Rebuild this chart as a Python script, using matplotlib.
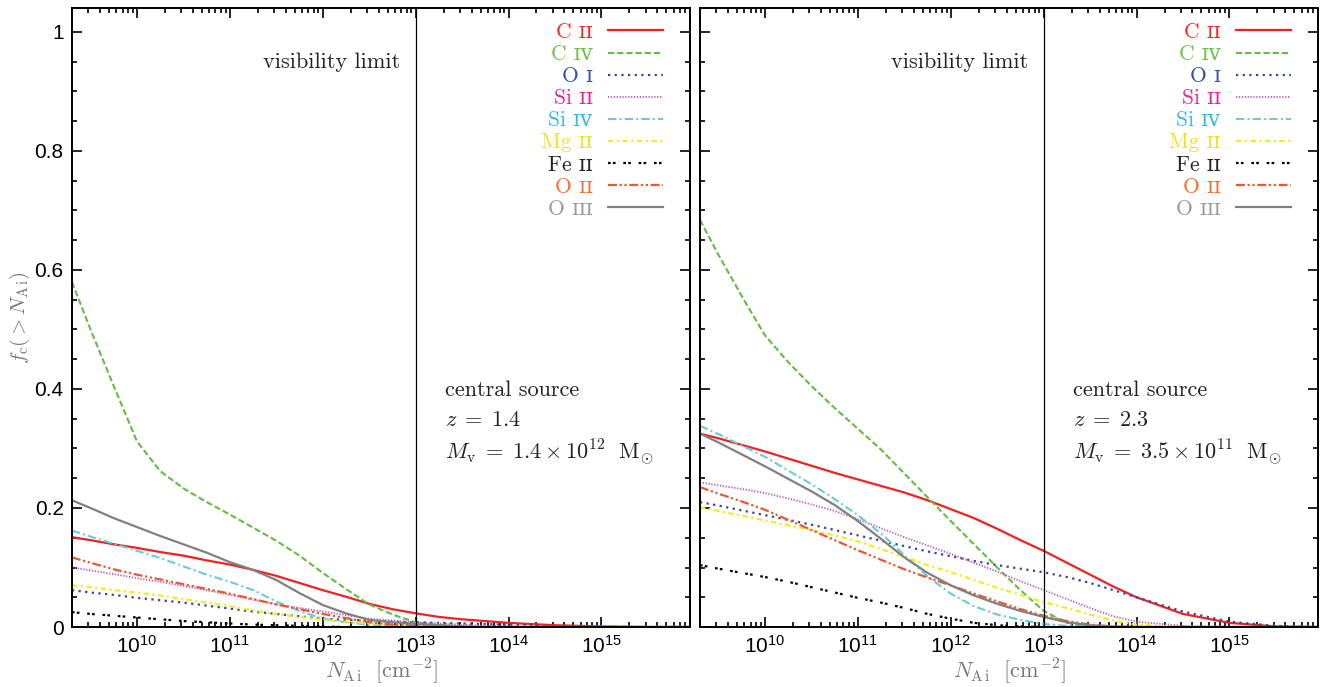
import numpy as np
import matplotlib
matplotlib.use('Agg')
import matplotlib.pyplot as plt
from matplotlib.ticker import FixedLocator, LogLocator, MultipleLocator, NullFormatter

plt.rcParams['font.family'] = ['Liberation Sans', 'DejaVu Sans']
plt.rcParams['mathtext.fontset'] = 'custom'
plt.rcParams['mathtext.rm'] = 'Liberation Sans'
plt.rcParams['mathtext.it'] = 'Liberation Sans:italic'

# column density grid, log10(N / cm^-2)
log_n = [9.3, 9.5, 9.75, 10.0, 10.25, 10.5, 10.75, 11.0, 11.25, 11.5, 11.75, 12.0,
         12.25, 12.5, 12.75, 13.0, 13.25, 13.5, 13.75, 14.0, 14.5, 15.0, 15.5, 16.0]
decades = [1e10, 1e11, 1e12, 1e13, 1e14, 1e15]
visibility_limit = 1e13

ion_labels = ['C ɪɪ', 'C ɪᴠ', 'O ɪ', 'Si ɪɪ', 'Si ɪᴠ', 'Mg ɪɪ', 'Fe ɪɪ', 'O ɪɪ', 'O ɪɪɪ']

# z = 1.4 panel
left_c2 = [0.151, 0.146, 0.139, 0.133, 0.126, 0.120, 0.112, 0.105, 0.096, 0.086, 0.074, 0.062,
           0.051, 0.039, 0.030, 0.023, 0.017, 0.013, 0.010, 0.007, 0.003, 0.001, 0, 0]
left_c4 = [0.58, 0.50, 0.405, 0.312, 0.262, 0.233, 0.210, 0.189, 0.167, 0.145, 0.120, 0.091,
           0.064, 0.038, 0.021, 0.008, 0.003, 0.001, 0, 0, 0, 0, 0, 0]
left_o1 = [0.062, 0.058, 0.054, 0.049, 0.045, 0.041, 0.036, 0.031, 0.026, 0.022, 0.018, 0.014,
           0.012, 0.011, 0.009, 0.008, 0.007, 0.006, 0.005, 0.004, 0.001, 0, 0, 0]
left_si2 = [0.100, 0.095, 0.089, 0.082, 0.076, 0.069, 0.062, 0.054, 0.046, 0.038, 0.032, 0.026,
            0.020, 0.014, 0.011, 0.008, 0.006, 0.004, 0.002, 0.001, 0, 0, 0, 0]
left_si4 = [0.162, 0.152, 0.140, 0.128, 0.116, 0.102, 0.088, 0.076, 0.062, 0.043, 0.027, 0.014,
            0.008, 0.004, 0.002, 0.001, 0, 0, 0, 0, 0, 0, 0, 0]
left_mg2 = [0.070, 0.067, 0.062, 0.058, 0.053, 0.047, 0.041, 0.035, 0.028, 0.022, 0.017, 0.012,
            0.009, 0.006, 0.004, 0.002, 0.001, 0, 0, 0, 0, 0, 0, 0]
left_fe2 = [0.025, 0.022, 0.019, 0.016, 0.013, 0.010, 0.008, 0.006, 0.004, 0.003, 0.002, 0.001,
            0, 0, 0, 0, 0, 0, 0, 0, 0, 0, 0, 0]
left_o2 = [0.117, 0.108, 0.097, 0.088, 0.080, 0.072, 0.064, 0.056, 0.047, 0.038, 0.030, 0.022,
           0.015, 0.008, 0.004, 0.002, 0.001, 0, 0, 0, 0, 0, 0, 0]
left_o3 = [0.213, 0.200, 0.183, 0.168, 0.153, 0.139, 0.125, 0.109, 0.096, 0.079, 0.057, 0.037,
           0.023, 0.012, 0.008, 0.005, 0.003, 0.001, 0, 0, 0, 0, 0, 0]

# z = 2.3 panel
right_c2 = [0.325, 0.317, 0.306, 0.295, 0.283, 0.271, 0.259, 0.248, 0.237, 0.226, 0.213, 0.198,
            0.183, 0.165, 0.146, 0.128, 0.108, 0.088, 0.068, 0.050, 0.022, 0.007, 0.001, 0]
right_c4 = [0.684, 0.625, 0.556, 0.490, 0.445, 0.405, 0.368, 0.333, 0.298, 0.258, 0.218, 0.178,
            0.139, 0.100, 0.062, 0.027, 0.007, 0.001, 0, 0, 0, 0, 0, 0]
right_o1 = [0.210, 0.204, 0.196, 0.188, 0.180, 0.172, 0.163, 0.154, 0.145, 0.136, 0.127, 0.119,
            0.111, 0.104, 0.098, 0.092, 0.084, 0.074, 0.062, 0.050, 0.026, 0.009, 0.002, 0]
right_si2 = [0.243, 0.238, 0.232, 0.225, 0.216, 0.206, 0.195, 0.181, 0.166, 0.151, 0.137, 0.123,
             0.108, 0.093, 0.077, 0.062, 0.047, 0.032, 0.018, 0.009, 0.002, 0, 0, 0]
right_si4 = [0.338, 0.324, 0.305, 0.286, 0.263, 0.240, 0.215, 0.188, 0.157, 0.121, 0.085, 0.056,
             0.035, 0.021, 0.012, 0.005, 0.002, 0, 0, 0, 0, 0, 0, 0]
right_mg2 = [0.201, 0.195, 0.187, 0.179, 0.171, 0.163, 0.154, 0.144, 0.131, 0.118, 0.104, 0.092,
             0.079, 0.066, 0.054, 0.042, 0.032, 0.021, 0.011, 0.004, 0, 0, 0, 0]
right_fe2 = [0.104, 0.098, 0.091, 0.084, 0.076, 0.067, 0.058, 0.049, 0.041, 0.032, 0.022, 0.014,
             0.007, 0.003, 0.001, 0, 0, 0, 0, 0, 0, 0, 0, 0]
right_o2 = [0.235, 0.224, 0.211, 0.197, 0.180, 0.163, 0.146, 0.129, 0.113, 0.097, 0.083, 0.070,
            0.056, 0.043, 0.030, 0.019, 0.010, 0.004, 0.001, 0, 0, 0, 0, 0]
right_o3 = [0.325, 0.310, 0.290, 0.270, 0.249, 0.228, 0.205, 0.178, 0.148, 0.117, 0.091, 0.070,
            0.053, 0.039, 0.027, 0.017, 0.008, 0.003, 0.001, 0, 0, 0, 0, 0]

line_colors = ['#ee2222', '#66bb44', '#3344aa', '#bb55bb', '#66ccdd', '#eeee22', 'black', '#ee5533', '#808080']
text_colors = ['#ee2a24', '#6abf45', '#3a4fa8', '#e6268c', '#38b6e8', '#f0e020', '#222222', '#f07030', '#999999']
styles = ['-', (0, (3, 1.4)), (0, (1, 2)), (0, (0.7, 0.9)), (0, (4, 1.5, 1, 1.5)),
          (0, (2.5, 1.5, 1, 1.5)), (0, (1.2, 1, 1.2, 3.5)), (0, (4, 1.2, 1, 1.2, 1, 1.2)), '-']
widths = [1.6, 1.5, 1.6, 1.3, 1.5, 1.6, 1.6, 1.6, 1.6]

panels = [
    ([left_c2, left_c4, left_o1, left_si2, left_si4, left_mg2, left_fe2, left_o2, left_o3],
     r'$z\;=\;1.4$', r'$M_{\rm v}\;=\;1.4\times10^{12}\ \ {\rm M}_{\odot}$'),
    ([right_c2, right_c4, right_o1, right_si2, right_si4, right_mg2, right_fe2, right_o2, right_o3],
     r'$z\;=\;2.3$', r'$M_{\rm v}\;=\;3.5\times10^{11}\ \ {\rm M}_{\odot}$'),
]

serif = ['cmr10', 'DejaVu Serif', 'DejaVu Sans']
n_col = 10.0 ** np.array(log_n)

fig = plt.figure(figsize=(13.36, 6.87), dpi=100)
ax_l = fig.add_axes([0.0539, 0.0873, 0.4626, 0.901])
ax_r = fig.add_axes([0.524, 0.0873, 0.4626, 0.901])

for ax, (series, z_text, m_text) in zip([ax_l, ax_r], panels):
    for vals, lab, c, ls, lw in zip(series, ion_labels, line_colors, styles, widths):
        ax.plot(n_col, vals, color=c, ls=ls, lw=lw, label=lab)
    ax.axvline(visibility_limit, color='black', lw=0.9)
    ax.set_xscale('log')
    ax.set_xlim(2e9, 9e15)
    ax.set_ylim(0, 1.04)
    ax.xaxis.set_major_locator(FixedLocator(decades))
    ax.xaxis.set_minor_locator(LogLocator(base=10, subs=np.arange(2, 10), numticks=20))
    ax.xaxis.set_minor_formatter(NullFormatter())
    ax.yaxis.set_minor_locator(MultipleLocator(0.05))
    ax.tick_params(which='both', direction='in', top=True, right=True, width=1.2, labelsize=15)
    ax.tick_params(which='major', length=7, pad=6)
    ax.tick_params(which='minor', length=3.5)
    for sp in ax.spines.values():
        sp.set_linewidth(1.4)
    ax.set_yticks([0, 0.2, 0.4, 0.6, 0.8, 1.0])
    ax.set_yticklabels(['0', '0.2', '0.4', '0.6', '0.8', '1'])
    ax.set_xlabel(r'$N_{\rm A\,i}\ \ [{\rm cm}^{-2}]$', color='#777777', fontsize=16,
                  math_fontfamily='cm', labelpad=-1)

    ax.text(0.531, 0.913, 'visibility limit', transform=ax.transAxes, ha='right', va='center',
            fontsize=16, family=serif, color='#222222')
    ax.text(0.604, 0.383, 'central source', transform=ax.transAxes, ha='left', va='center',
            fontsize=16, family=serif, color='#222222')
    ax.text(0.604, 0.334, z_text, transform=ax.transAxes, ha='left', va='center',
            fontsize=16, math_fontfamily='cm', color='#222222')
    ax.text(0.604, 0.283, m_text, transform=ax.transAxes, ha='left', va='center',
            fontsize=16, math_fontfamily='cm', color='#222222')

    leg = ax.legend(loc='upper right', bbox_to_anchor=(0.987, 1.008), frameon=False,
                    markerfirst=False, handlelength=2.55, handletextpad=0.7,
                    labelspacing=0.12, prop={'family': serif, 'size': 15.5})
    for t, c in zip(leg.get_texts(), text_colors):
        t.set_color(c)

ax_l.set_ylabel(r'$f_{\rm c}(>N_{\rm A\,i})$', color='#777777', fontsize=15,
                math_fontfamily='cm', labelpad=2)
ax_r.set_yticklabels([])

fig.savefig('out.png', dpi=100)
